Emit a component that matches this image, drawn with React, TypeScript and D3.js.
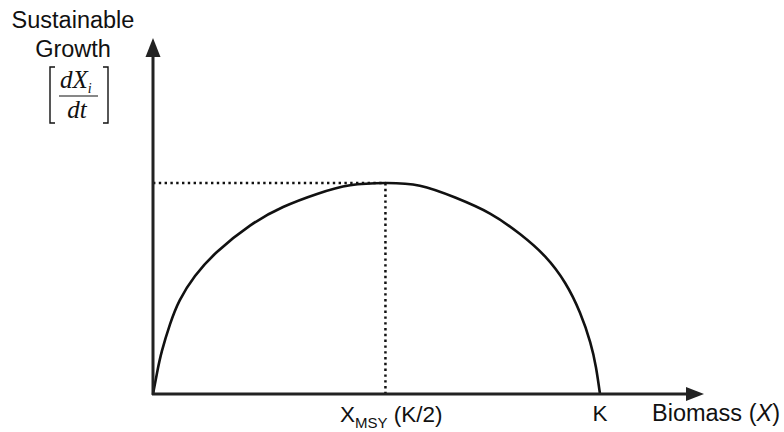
import React from "react";
import * as d3 from "d3";

// Biomass values (0..K, with K = 100) and the sustainable growth at each one
const biomass = [0, 0.9, 2.0, 3.8, 6.0, 9.4, 14.3, 21.7, 29.1, 36.7, 44.1, 52, 59.7, 67.6, 75.4, 82.1, 87.7, 92.2, 95.5, 97.8, 99.1, 100];
const growth = [0, 10.0, 20.4, 33.0, 44.5, 55.9, 67.3, 79.8, 88.6, 94.8, 98.9, 100, 98.7, 93.1, 85.5, 75.8, 65.2, 52.6, 38.6, 24.6, 12.6, 0];

const K = 100;
const xMSY = 52;
const maxGrowth = 100;

const W = 784;
const H = 432;
const originX = 153;
const originY = 394;
const kX = 600;
const peakY = 183;
const yAxisTop = 38;
const xAxisEnd = 704;

export default function App() {
  const x = d3.scaleLinear().domain([0, K]).range([originX, kX]);
  const y = d3.scaleLinear().domain([0, maxGrowth]).range([originY, peakY]);

  const pts: [number, number][] = biomass.map((b, i) => [b, growth[i]]);
  const line = d3
    .line<[number, number]>()
    .x((d) => x(d[0]))
    .y((d) => y(d[1]))
    .curve(d3.curveNatural);

  const sans = "'Liberation Sans', Arial, sans-serif";
  const serif = "'Liberation Serif', 'Times New Roman', serif";

  return (
    <svg
      width={W}
      height={H}
      viewBox={`0 0 ${W} ${H}`}
      style={{ position: "absolute", left: 0, top: 0, background: "#fff" }}
    >
      <rect width={W} height={H} fill="#fff" />

      {/* dotted guides to the maximum sustainable yield */}
      <line
        x1={x(0)}
        y1={y(maxGrowth)}
        x2={x(xMSY)}
        y2={y(maxGrowth)}
        stroke="#111"
        strokeWidth={2.5}
        strokeDasharray="2.4 3.4"
      />
      <line
        x1={x(xMSY)}
        y1={y(maxGrowth)}
        x2={x(xMSY)}
        y2={y(0)}
        stroke="#111"
        strokeWidth={2.5}
        strokeDasharray="2.4 3.4"
      />

      {/* growth curve */}
      <path d={line(pts) || ""} fill="none" stroke="#111" strokeWidth={2.6} />

      {/* axes */}
      <line x1={originX} y1={originY + 1} x2={originX} y2={yAxisTop + 16} stroke="#222" strokeWidth={3} />
      <polygon
        points={`${originX},${yAxisTop} ${originX - 7.5},${yAxisTop + 19} ${originX + 7.5},${yAxisTop + 19}`}
        fill="#222"
      />
      <line x1={originX - 1} y1={originY} x2={xAxisEnd - 14} y2={originY} stroke="#222" strokeWidth={3} />
      <polygon
        points={`${xAxisEnd},${originY} ${xAxisEnd - 18},${originY - 7} ${xAxisEnd - 18},${originY + 7}`}
        fill="#222"
      />

      {/* y-axis title */}
      <text x={73} y={28} textAnchor="middle" fontFamily={sans} fontSize={23.5} fill="#111">
        Sustainable
      </text>
      <text x={73} y={57} textAnchor="middle" fontFamily={sans} fontSize={23.5} fill="#111">
        Growth
      </text>
      {/* bracketed derivative dX_i / dt */}
      <path d="M55,67 L50,67 L50,123 L55,123" fill="none" stroke="#111" strokeWidth={1.4} />
      <path d="M103,67 L108,67 L108,123 L103,123" fill="none" stroke="#111" strokeWidth={1.4} />
      <text x={60} y={88} fontFamily={serif} fontStyle="italic" fontSize={25} fill="#111">
        dX
        <tspan fontSize={14} dy={5}>i</tspan>
      </text>
      <line x1={59} y1={96} x2={98} y2={96} stroke="#111" strokeWidth={1.2} />
      <text x={77} y={118} textAnchor="middle" fontFamily={serif} fontStyle="italic" fontSize={25} fill="#111">
        dt
      </text>

      {/* x-axis labels */}
      <text x={340} y={422} fontFamily={sans} fontSize={22.5} fill="#111">
        X
        <tspan fontSize={15} dy={6}>MSY</tspan>
        <tspan dy={-6}> (K/2)</tspan>
      </text>
      <text x={x(K)} y={421} textAnchor="middle" fontFamily={sans} fontSize={22.5} fill="#111">
        K
      </text>
      <text x={652} y={421} fontFamily={sans} fontSize={23.5} fill="#111">
        Biomass (<tspan fontStyle="italic">X</tspan>)
      </text>
    </svg>
  );
}
